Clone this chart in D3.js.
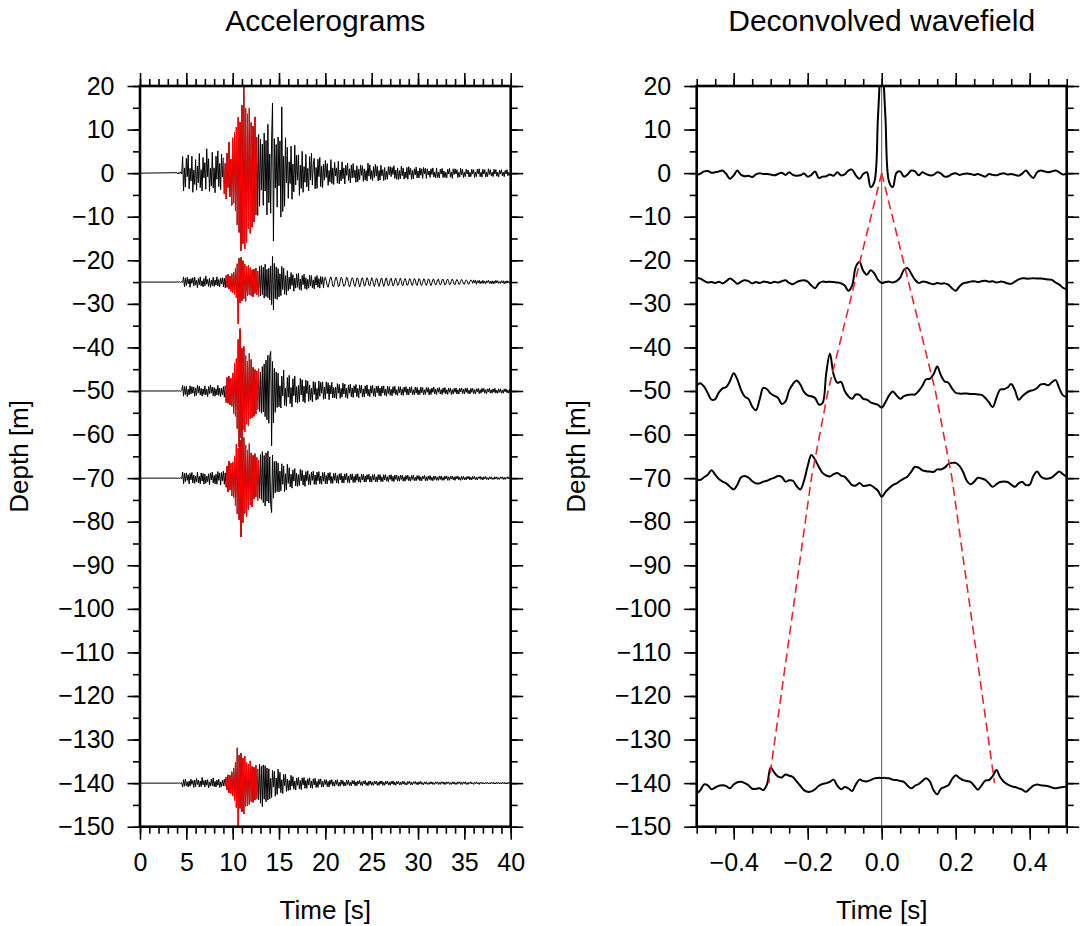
<!DOCTYPE html>
<html><head><meta charset="utf-8">
<script src="https://cdn.jsdelivr.net/npm/d3@7"></script>
<style>body{margin:0;background:#fff}svg{display:block}</style>
</head><body>
<svg id="chart" width="1081" height="926"></svg>
<script>
// ---------------- data ----------------
const depths = [0, -25, -50, -70, -140];
const accStart = 4.0, accDt = 0.1;   // seconds
const acc0 = [
0.1,-0.2,0.2,-0.1,0.3,-0.2,3.8,-4.1,1.2,-3.2,
3.4,-0.8,4.2,-3.6,1.1,-1.8,3.9,-4.4,0.7,-2.6,
3.1,-3.9,1.6,-2.2,4.5,-3.3,0.8,-4.1,3.6,-1.1,
2.4,-3.7,5.6,-0.8,3.3,-4.2,1.1,-2.9,4.8,-3.4,
1.2,-4.5,3.9,-1.4,5.1,-3.1,2.2,-3.8,4.4,-0.9,
3.5,-4.8,2.2,-5.9,4.6,-3.3,7.1,-5.4,3.2,-7.4,
8.1,-6.9,9.4,-8.7,10.6,-11.9,12.8,-13.6,11.7,-17.8,
15.6,-16.2,20.4,-17.4,14.8,-15.9,13.6,-12.7,14.9,-13.8,
11.6,-12.4,10.8,-11.2,12.9,-9.6,8.2,-9.7,8.9,-7.6,
7.8,-3.9,6.7,-7.4,9.2,-4.1,7.5,-9.6,11.2,-6.8,
4.4,-9.2,7.6,16.1,-15.6,7.9,-3.4,6.6,-7.8,8.3,
-2.9,7.4,-10.1,15.2,-8.8,3.9,-7.6,8.1,-2.2,5.9,
-5.8,2.6,-2.4,6.2,-6.0,2.1,-4.3,6.4,-2.7,4.1,
-1.6,4.2,-5.1,1.8,-3.5,5.0,-4.4,1.5,-2.1,4.3,
-3.2,1.1,-4.1,3.8,-1.6,4.6,-2.7,1.9,3.4,-3.6,
1.3,-3.5,3.2,-0.8,3.6,-3.1,1.6,-3.3,2.1,-1.6,
2.9,-1.0,2.2,-2.8,0.6,-2.0,3.1,-2.4,1.2,-2.6,
2.5,-0.6,1.2,-2.3,2.7,-2.5,0.7,-1.8,2.6,-1.3,
1.2,-2.5,1.8,-0.5,2.3,-1.7,1.0,-2.2,1.9,-1.1,
2.2,-1.0,0.7,-2.1,1.7,-2.0,0.9,-1.5,1.9,-0.5,
1.7,-1.9,1.0,-1.6,0.6,-1.8,2.3,-0.7,1.9,-1.4,
0.6,-1.7,1.5,-1.0,2.0,-0.7,1.6,-1.8,0.6,-1.6,
1.8,-0.6,0.8,-1.7,1.3,-1.5,0.5,-1.4,1.5,-0.4,
1.5,-0.8,1.3,-0.3,1.7,-1.2,0.7,-1.4,1.2,-1.5,
0.6,-1.3,1.6,-0.6,1.2,-1.4,0.3,-1.1,1.3,-1.4,
1.5,-0.4,1.1,-1.4,0.6,-1.3,1.0,-0.4,1.4,-1.1,
0.5,-1.1,1.2,-0.5,1.0,-1.2,1.3,-0.2,1.1,-1.2,
1.0,-0.4,0.5,-1.0,1.0,-0.3,1.2,-0.9,0.2,-1.1,
1.2,-1.0,0.2,-1.1,0.9,-0.2,1.1,-1.0,0.5,-1.0,
0.2,-1.1,0.9,-0.2,1.1,-0.9,0.2,-1.2,1.0,-0.3,
1.0,-0.2,0.8,-1.0,0.2,-0.9,1.1,-0.4,0.9,-1.0,
0.2,-0.8,0.9,-0.2,0.7,-0.9,0.2,-0.8,0.9,-0.2,
0.8,-1.0,0.2,-0.8,0.9,-0.2,1.0,-0.8,0.2,-0.9,
0.9,-0.2,0.8,-0.9,0.2,-0.8,1.0,-0.3,0.8,-0.6,
0.2,-0.8,0.9,-0.2,0.8,-0.7,0.2,-0.9,0.7,-0.2,
0.8,-0.6,0.2,-0.8,0.6,-0.2,0.8,-0.6,0.2,-0.5,
0.3];
const acc25 = [
0.0,0.1,-0.1,0.1,-0.1,0.1,-0.1,1.2,-1.1,0.9,
-0.8,1.1,-0.4,0.7,-1.2,0.8,-0.3,1.0,-0.9,1.1,
-0.7,0.4,-1.3,0.8,-0.6,1.2,-0.9,0.3,-1.1,0.8,
-0.9,1.4,-0.5,0.6,-1.0,0.9,-1.2,0.4,-0.8,1.1,
-1.0,0.5,-0.7,1.2,-0.9,0.6,-1.1,0.9,-0.4,1.0,
-1.1,0.9,-1.3,1.5,-1.2,1.8,-1.6,1.4,-2.1,1.9,
-2.4,2.2,-2.8,3.1,-3.6,4.2,-9.6,5.5,-4.8,5.7,
-4.3,4.9,-3.8,4.1,-4.4,3.6,-3.2,3.9,-2.9,3.3,
-3.1,2.8,-3.4,3.0,-2.6,3.2,-2.9,2.5,-3.3,3.6,
-3.2,3.8,-2.9,3.4,-3.7,4.1,-3.3,2.9,-3.6,3.2,
-4.1,3.7,-5.2,5.9,-6.4,4.3,-3.8,3.5,-4.0,3.1,
-3.4,1.9,-3.1,3.6,-1.7,3.2,-2.8,1.5,-3.0,2.6,
-2.0,1.1,-1.6,2.2,-0.8,1.7,-2.1,0.9,-1.4,1.9,
-1.2,2.0,-1.7,0.7,-1.9,1.5,-0.6,1.8,-1.5,1.0,
-1.7,0.6,-1.4,1.6,-0.9,1.5,-1.3,0.5,-1.6,1.2,
-0.7,1.5,-1.2,0.8,-1.4,1.3,-0.5,1.2,-1.3,0.9,
1.1,0.3,-0.8,-1.2,-0.2,0.7,1.2,0.4,-0.9,-1.1,
-0.1,1.0,1.1,0.1,-1.1,-0.9,0.2,1.1,0.8,-0.3,
-1.0,-0.8,0.3,1.1,0.7,-0.4,-1.1,-0.6,0.5,1.0,
0.6,-0.6,-1.0,-0.2,0.9,0.9,-0.2,-1.1,-0.5,0.7,
1.0,0.2,-0.9,-0.8,0.3,1.0,0.5,-0.7,-0.9,0.1,
1.0,0.6,-0.6,-1.0,-0.1,0.9,0.7,-0.5,-1.0,-0.2,
0.8,0.9,-0.3,-1.0,-0.4,0.8,0.9,-0.2,-0.9,-0.5,
0.6,0.9,0.0,-0.9,-0.6,0.5,0.9,0.1,-0.8,-0.6,
0.4,0.9,0.2,-0.8,-0.7,0.3,0.8,0.3,-0.7,-0.7,
0.2,0.8,0.4,-0.6,-0.8,0.1,0.8,0.5,-0.5,-0.8,
0.0,0.8,0.5,-0.5,-0.8,-0.1,0.7,0.6,-0.4,-0.8,
-0.2,0.7,0.6,-0.3,-0.8,-0.2,0.6,0.7,-0.2,-0.7,
-0.4,0.5,0.7,-0.1,-0.7,-0.4,0.5,0.7,0.0,-0.7,
-0.5,0.4,0.7,0.1,-0.6,-0.5,0.3,0.7,0.2,-0.5,
-0.6,0.2,0.6,0.2,-0.5,-0.5,0.2,0.6,0.3,-0.4,
-0.5,0.1,0.5,0.3,-0.4,-0.5,0.1,0.5,0.3,-0.3,
0.5,-0.2,0.4,-0.5,0.3,-0.2,0.4,-0.4,0.2,-0.3,
0.4,-0.3,0.2,-0.4,0.3,-0.1,0.4,-0.3,0.2,-0.4,
0.3,-0.4,0.2,-0.3,0.4,-0.2,0.3,-0.3,0.1,-0.3,
0.3,-0.2,0.3,-0.4,0.2,-0.3,0.3,-0.2,0.2,-0.2,
0.0];
const acc50 = [
0.0,0.1,-0.1,0.1,-0.1,0.1,1.3,-1.2,1.0,-0.8,
1.1,-1.3,0.4,-0.9,1.2,-0.7,1.0,-0.5,0.9,-1.2,
0.7,-1.0,1.3,-0.4,1.1,-0.9,0.6,-1.2,0.5,-0.8,
1.2,-0.9,0.4,-1.3,1.0,-0.7,1.4,-0.5,0.9,-1.1,
0.8,-1.2,0.5,-0.9,1.3,-1.0,0.7,-1.3,0.6,-0.9,
1.0,-1.4,1.2,-2.6,3.1,-2.8,3.4,-3.2,2.9,-3.5,
4.1,-5.2,6.3,-5.8,7.4,-8.6,11.8,-12.9,14.3,-10.7,
9.8,-8.9,10.2,-9.4,8.1,-7.6,6.8,-7.9,8.6,-6.4,
7.2,-6.1,5.4,-5.8,4.9,-5.3,4.6,-4.2,5.1,-4.7,
4.3,-5.1,5.6,-4.8,6.2,-5.9,7.1,-6.6,8.2,-7.4,
7.9,9.1,-12.6,6.8,-7.3,5.2,-4.9,4.4,-3.8,4.1,
-3.6,1.2,-3.9,3.4,-1.1,4.8,-3.3,0.7,-3.5,3.1,
-1.4,3.6,-2.9,0.8,-3.7,2.8,-1.1,3.4,-2.6,1.0,
-2.8,1.3,-2.5,2.9,-0.9,2.6,-2.4,1.1,-2.7,2.5,
-0.6,2.3,-2.4,1.4,-2.1,0.7,-2.5,2.2,-0.8,2.0,
-2.1,0.6,-1.9,2.3,-1.2,2.0,-0.5,2.1,-1.9,0.9,
-1.8,2.1,-0.6,1.9,-2.0,1.3,-0.7,2.0,-1.6,0.8,
-1.6,0.9,-1.8,1.7,-0.5,1.5,-1.7,0.6,-1.4,1.8,
-0.7,1.6,-1.5,0.6,-1.7,1.4,-0.5,1.6,-1.3,0.7,
-1.5,1.2,-0.4,1.5,-1.3,0.6,-1.6,1.4,-0.5,1.3,
-1.3,0.5,-1.4,1.2,-0.6,1.4,-1.1,0.4,-1.3,1.2,
-0.5,1.3,-1.2,0.6,-1.3,1.1,-0.4,1.2,-1.1,0.7,
-1.2,1.1,-0.5,1.2,-1.0,0.4,-1.2,1.1,-0.6,1.0,
-1.0,0.4,-1.1,1.0,-0.5,1.1,-0.9,0.3,-1.0,1.0,
-0.4,1.0,-0.9,0.5,-1.0,0.9,-0.3,1.0,-0.9,0.5,
-0.9,0.9,-0.4,1.0,-0.8,0.3,-0.9,0.9,-0.5,0.8,
-0.9,0.3,-0.8,0.9,-0.4,0.8,-0.9,0.3,-0.8,0.8,
-0.3,0.8,-0.9,0.4,-0.8,0.7,-0.3,0.9,-0.7,0.4,
-0.8,0.7,-0.3,0.8,-0.7,0.3,-0.8,0.7,-0.4,0.8,
-0.7,0.3,-0.8,0.7,-0.3,0.7,-0.8,0.3,-0.7,0.6,
-0.3,0.7,-0.7,0.3,-0.7,0.6,-0.2,0.7,-0.6,0.4,
-0.7,0.6,-0.3,0.7,-0.6,0.2,-0.7,0.6,-0.3,0.6,
-0.6,0.3,-0.7,0.5,-0.2,0.6,-0.6,0.3,-0.5,0.6,
-0.2,0.6,-0.5,0.3,-0.6,0.5,-0.2,0.6,-0.5,0.3,
-0.5,0.5,-0.3,0.6,-0.5,0.2,-0.5,0.5,-0.3,0.5,
-0.5,0.2,-0.5,0.5,-0.2,0.5,-0.4,0.2,-0.5,0.4,
0.0];
const acc70 = [
0.0,-0.1,0.1,-0.1,0.1,-0.1,1.4,-1.3,1.1,-0.9,
1.2,-0.5,0.8,-1.3,1.1,-0.4,1.3,-1.1,0.7,-1.2,
0.5,-0.9,1.4,-1.1,0.4,-1.3,1.2,-0.7,1.1,-1.4,
0.9,-1.2,0.5,-0.8,1.0,-1.5,1.2,-0.4,1.4,-1.1,
0.6,-1.3,0.9,-1.4,1.5,-0.5,1.2,-1.6,1.3,-0.6,
1.6,-1.4,1.2,-2.1,2.8,-3.2,3.9,-2.7,3.4,-4.1,
3.6,-4.4,5.1,-6.3,7.8,-8.2,6.9,-9.6,8.7,-13.5,
11.9,-10.2,9.3,-8.1,7.6,-8.8,6.4,-7.2,7.9,-6.1,
5.8,-6.6,5.2,-4.8,5.6,-4.3,4.7,-5.1,4.1,-4.6,
5.4,-4.9,6.1,-5.6,5.2,-6.4,5.8,-5.3,6.2,-5.7,
4.9,-6.1,-7.9,5.3,-4.6,3.8,-3.4,3.9,-3.1,3.5,
-3.2,1.6,-2.9,3.3,-1.4,2.8,-3.1,1.0,-2.7,3.2,
-1.2,2.4,-2.0,0.9,-2.3,1.9,-0.7,2.2,-1.8,1.1,
-1.9,0.8,-1.7,2.0,-0.6,1.8,-1.6,0.7,-1.9,1.5,
-0.6,1.7,-1.5,0.8,-1.6,1.4,-0.5,1.6,-1.4,0.7,
-1.5,1.4,-0.6,1.5,-1.3,0.5,-1.4,1.3,-0.7,1.4,
-1.3,0.6,-1.3,1.2,-0.5,1.3,-1.2,0.4,-1.2,1.1,
-0.5,1.2,-1.1,0.6,-1.2,1.0,-0.4,1.1,-1.1,0.5,
-1.1,1.0,-0.4,1.1,-1.0,0.5,-1.1,0.9,-0.4,1.0,
-1.0,0.4,-1.0,0.9,-0.5,1.0,-0.9,0.3,-1.0,0.9,
-0.4,0.9,-0.9,0.5,-0.9,0.8,-0.3,0.9,-0.9,0.4,
-0.9,0.8,-0.4,0.9,-0.8,0.3,-0.9,0.8,-0.4,0.8,
-0.8,0.3,-0.8,0.8,-0.4,0.8,-0.7,0.3,-0.8,0.7,
-0.3,0.8,-0.7,0.4,-0.8,0.7,-0.3,0.7,-0.7,0.4,
-0.7,0.7,-0.3,0.7,-0.7,0.3,-0.7,0.6,-0.3,0.7,
-0.6,0.3,-0.7,0.6,-0.3,0.7,-0.6,0.2,-0.6,0.6,
-0.3,0.6,-0.6,0.3,-0.6,0.5,-0.2,0.6,-0.6,0.3,
-0.6,0.5,-0.3,0.6,-0.5,0.2,-0.6,0.5,-0.3,0.5,
-0.5,0.2,-0.5,0.5,-0.3,0.5,-0.5,0.2,-0.5,0.5,
-0.2,0.5,-0.5,0.3,-0.5,0.4,-0.2,0.5,-0.4,0.3,
-0.5,0.4,-0.2,0.5,-0.4,0.2,-0.5,0.4,-0.3,0.4,
-0.4,0.2,-0.4,0.4,-0.2,0.4,-0.4,0.2,-0.4,0.4,
-0.2,0.4,-0.4,0.2,-0.4,0.3,-0.1,0.4,-0.3,0.2,
-0.4,0.3,-0.2,0.4,-0.3,0.1,-0.4,0.3,-0.2,0.3,
-0.3,0.1,-0.3,0.3,-0.2,0.3,-0.3,0.1,-0.3,0.3,
-0.1,0.3,-0.3,0.2,-0.3,0.2,-0.1,0.3,-0.2,0.2,
0.0];
const acc140 = [
0.0,0.1,-0.1,0.1,-0.1,0.1,-0.9,0.8,-0.7,0.9,
-0.6,0.3,-0.9,0.5,-0.7,0.9,-0.3,0.6,-1.0,0.7,
-0.8,1.1,-0.3,0.7,-0.9,0.5,-0.8,1.3,-0.4,0.6,
-0.9,0.7,-0.5,0.8,-1.1,0.3,-0.7,0.9,-0.6,1.2,
-0.8,0.4,-0.9,0.7,-0.5,0.9,-1.0,0.3,-0.8,0.7,
-0.6,0.9,-0.7,1.4,-1.6,1.9,-2.2,1.8,-2.4,2.6,
-2.9,3.4,-4.1,4.8,-5.6,8.1,-10.2,6.4,-5.8,6.9,
-6.6,5.7,-7.1,6.2,-5.3,4.8,-5.2,4.4,-4.9,5.1,
-4.2,3.8,-4.4,3.6,-3.9,4.1,-3.5,3.2,-3.8,4.3,
-4.6,3.9,-5.4,4.2,-3.7,4.0,-4.3,3.5,-3.9,3.3,
-3.6,1.1,-3.3,2.9,-0.9,2.7,-3.0,1.2,-2.6,3.2,
-1.2,2.5,-2.2,0.8,-2.4,2.0,-0.6,2.1,-1.9,0.9,
-1.7,0.6,-1.6,1.8,-0.7,1.5,-1.4,0.5,-1.6,1.2,
-0.5,1.4,-1.3,0.6,-1.5,1.2,-0.4,1.3,-1.2,0.6,
-1.2,1.0,-0.4,1.2,-1.1,0.5,-1.2,1.0,-0.4,1.1,
-1.0,0.4,-1.0,0.9,-0.3,1.0,-0.9,0.4,-0.9,0.8,
-0.3,0.8,-0.8,0.4,-0.9,0.7,-0.3,0.8,-0.7,0.3,
-0.7,0.7,-0.3,0.8,-0.7,0.2,-0.7,0.7,-0.3,0.6,
-0.7,0.2,-0.6,0.7,-0.3,0.6,-0.6,0.2,-0.6,0.6,
-0.2,0.6,-0.6,0.3,-0.6,0.5,-0.2,0.6,-0.5,0.3,
-0.6,0.5,-0.2,0.6,-0.5,0.2,-0.6,0.5,-0.3,0.5,
-0.5,0.2,-0.5,0.5,-0.2,0.5,-0.5,0.2,-0.5,0.5,
-0.2,0.5,-0.5,0.2,-0.5,0.4,-0.2,0.5,-0.4,0.2,
-0.5,0.4,-0.2,0.5,-0.4,0.2,-0.5,0.4,-0.2,0.4,
-0.4,0.2,-0.4,0.4,-0.2,0.4,-0.4,0.1,-0.4,0.4,
-0.1,0.4,-0.4,0.2,-0.4,0.3,-0.1,0.4,-0.3,0.2,
-0.4,0.3,-0.2,0.4,-0.3,0.1,-0.4,0.3,-0.2,0.3,
-0.3,0.1,-0.3,0.3,-0.2,0.3,-0.3,0.1,-0.3,0.3,
-0.1,0.3,-0.3,0.2,-0.3,0.3,-0.1,0.3,-0.3,0.2,
-0.3,0.3,-0.1,0.3,-0.3,0.1,-0.3,0.3,-0.2,0.3,
-0.3,0.1,-0.3,0.3,-0.1,0.3,-0.3,0.2,-0.3,0.3,
-0.1,0.3,-0.3,0.1,-0.3,0.2,-0.1,0.3,-0.2,0.1,
-0.3,0.2,-0.1,0.3,-0.2,0.1,-0.3,0.2,-0.1,0.2,
-0.2,0.1,-0.2,0.2,-0.1,0.2,-0.2,0.1,-0.2,0.2,
-0.1,0.2,-0.2,0.1,-0.2,0.2,-0.1,0.2,-0.2,0.1,
-0.2,0.2,-0.1,0.2,-0.2,0.1,-0.2,0.2,-0.1,0.2,
0.0];
const accTraces = [acc0, acc25, acc50, acc70, acc140];
const redStart = [9.0, 9.3, 9.2, 9.3, 9.2];   // highlighted window (s)
const redEnd   = [12.6, 12.8, 12.8, 12.8, 12.7];

const decStart = -0.5, decDt = 0.01;
const dec0 = [
-0.4,-0.1,0.4,0.5,0.1,0.2,0.4,0.6,-0.2,-1.3,
-0.5,0.6,-0.4,-0.7,-0.6,-0.9,-0.3,0.0,-0.2,-0.2,
-0.3,-0.5,-0.2,0.1,-0.4,0.2,-0.4,-0.6,-0.5,-0.1,
-0.8,-0.4,0.4,-1.1,-0.8,-0.7,-0.3,-0.6,0.2,-0.5,
-0.3,0.6,0.8,-0.5,-1.3,-0.2,0.2,-3.2,-2.0,13.0,
27.0,13.0,-2.0,-3.2,0.1,0.4,-0.8,-0.3,0.6,0.4,
-0.5,0.2,-0.2,-0.5,-0.4,0.2,-0.1,-0.8,-0.7,-0.2,
0.0,-0.4,-0.2,-0.1,-0.2,-0.4,-0.2,-0.5,-0.8,-0.2,
-0.4,-0.5,-0.2,0.0,-0.3,-0.2,-0.4,-0.6,-0.1,0.6,
-0.4,-1.1,0.2,0.6,0.4,0.2,0.4,0.6,0.2,-0.3,
-0.1];
const dec25 = [
1.0,0.8,0.3,-0.1,0.0,-0.2,0.1,-0.3,0.2,0.8,
0.3,-0.4,0.1,0.4,0.2,-0.3,0.0,-0.2,0.1,0.0,
-0.2,0.1,-0.1,0.2,0.4,-0.2,-0.5,0.0,0.3,0.4,
0.1,-0.8,-1.4,-0.3,0.1,0.0,0.1,0.0,-0.1,-0.3,
-0.8,-2.0,-0.8,3.5,4.6,2.6,1.7,2.7,2.0,0.5,
-0.2,0.0,0.1,-0.1,0.2,1.0,2.8,3.2,1.9,0.5,
-0.2,0.1,0.0,-0.3,-0.5,-0.2,-0.4,-0.3,-0.6,-1.4,
-2.0,-1.0,-0.3,-0.1,0.1,0.2,0.0,0.2,0.3,0.1,
0.2,-0.1,0.1,0.0,-0.3,-0.4,0.1,0.6,0.9,0.8,
0.8,0.9,0.8,0.8,0.7,0.6,0.5,-0.1,-0.6,-1.3,
-1.7];
const dec50 = [
1.3,1.8,1.0,-0.5,-2.0,-1.9,-0.3,0.6,0.9,2.3,
4.1,2.6,0.2,-1.3,-1.8,-3.6,-4.4,-2.0,0.7,0.4,
-0.6,-1.1,-1.6,-3.0,-2.4,0.2,1.6,2.4,1.5,-0.2,
-1.0,-1.2,-1.6,-3.1,-2.8,4.0,8.6,3.8,1.9,2.1,
0.0,-1.2,-1.8,-0.8,-0.9,-1.8,-2.0,-2.6,-2.9,-3.2,
-3.8,-2.6,-1.0,-0.1,-1.0,-1.8,-1.2,-0.9,-0.8,-0.8,
0.0,1.2,2.7,2.8,3.8,5.6,3.6,2.2,1.9,0.6,
-0.4,-0.6,-0.6,-0.6,-0.7,-0.7,-0.8,-0.9,-1.6,-2.6,
-3.7,-1.6,0.3,0.4,0.8,1.6,0.2,-2.0,-1.2,-0.5,
0.0,0.2,0.7,1.5,1.6,1.3,2.0,2.5,0.6,-1.0,
-1.4];
const dec70 = [
-0.3,-0.4,0.2,0.8,1.8,0.8,-0.2,-0.8,-1.2,-2.0,
-2.6,-1.5,0.2,0.5,0.1,-0.7,-1.2,-1.2,-0.8,-0.6,
-0.2,0.1,0.5,0.3,-0.8,-0.5,-0.6,-1.8,-2.6,-0.6,
2.8,5.3,4.2,2.6,1.2,0.6,0.4,0.9,1.2,0.6,
0.3,-0.6,-1.6,-1.7,-1.1,-1.8,-1.7,-1.6,-2.2,-2.9,
-4.3,-3.2,-2.3,-1.6,-1.2,-0.6,-0.1,0.4,1.5,2.6,
2.4,1.8,1.6,1.5,1.4,2.0,2.0,2.4,3.2,3.5,
3.5,2.8,1.4,-0.6,-1.4,-0.8,0.1,-0.1,-0.4,-1.2,
-2.0,-1.4,-0.9,-0.8,-0.9,-1.5,-2.0,-1.2,-0.9,-1.6,
-1.5,0.5,1.5,0.4,-0.1,-0.1,0.2,0.9,1.5,0.9,
0.3];
const dec140 = [
-2.4,-1.6,-0.3,-0.5,-1.4,-1.0,-0.6,-0.5,-0.7,-1.2,
-0.3,0.2,0.3,0.0,-0.5,-1.3,-1.3,-1.2,-1.6,-0.3,
3.6,2.4,1.5,1.3,2.0,1.7,1.4,0.4,-0.6,-1.6,
-2.0,-1.9,-1.4,-0.6,-0.2,0.0,0.3,0.8,-0.6,-1.4,
-0.9,-1.2,-1.8,-0.3,0.8,0.5,0.4,0.7,1.1,1.2,
1.2,1.2,1.1,0.8,0.7,0.5,0.3,-0.6,-1.2,-0.6,
-0.2,0.5,1.1,0.4,-1.6,-2.6,-1.3,-0.9,-0.5,0.9,
1.8,1.2,0.7,0.5,0.3,-0.6,-1.5,-0.5,0.6,0.7,
1.6,3.0,1.4,0.3,-0.3,-0.7,-0.9,-1.2,-1.5,-2.0,
-1.3,-0.6,-0.3,-0.5,-0.6,-0.7,-1.0,-1.2,-1.0,-0.9,
-0.8];
const decTraces = [dec0, dec25, dec50, dec70, dec140];

// arrival picks (time in s) at each sensor depth
const pickLeft  = [0, -0.0725, -0.145, -0.19, -0.305];
const pickRight = [0,  0.0725,  0.145,  0.19,  0.305];

const yMajorTicks = d3.range(20, -151, -10);
const yMinorTicks = d3.range(20, -151, -5);
const accXMajor = d3.range(0, 41, 5);
const accXMinor = d3.range(0, 41, 1);
const decXMajor = [-0.4, -0.2, 0.0, 0.2, 0.4];
const decXMinor = d3.range(-10, 11, 1).map(k => k * 0.05);

const titles = ["Accelerograms", "Deconvolved wavefield"];
const xLabel = "Time [s]", yLabel = "Depth [m]";

// ---------------- layout ----------------
const FONT = "'Liberation Sans', Helvetica, Arial, sans-serif";
const plotTop = 86, plotBottom = 826.7;
const panels = [
  {x0: 140, x1: 510.7, domain: [0, 40], major: accXMajor, minor: accXMinor, fmt: d3.format("d")},
  {x0: 696.7, x1: 1066.7, domain: [-0.5, 0.5], major: decXMajor, minor: decXMinor, fmt: d3.format(".1f")}
];
const svg = d3.select("#chart");
const y = d3.scaleLinear().domain([20, -150]).range([plotTop, plotBottom]);

function styleAxis(g, fontSize) {
  g.select(".domain").remove();
  g.selectAll(".tick line").attr("stroke", "#000").attr("stroke-width", 1.6);
  g.selectAll(".tick text").attr("font-family", FONT).attr("font-size", fontSize).attr("fill", "#000");
}

panels.forEach((p, pi) => {
  const x = d3.scaleLinear().domain(p.domain).range([p.x0, p.x1]);
  const g = svg.append("g");
  const clipId = "clip" + pi;
  svg.append("clipPath").attr("id", clipId).append("rect")
    .attr("x", p.x0).attr("y", plotTop).attr("width", p.x1 - p.x0).attr("height", plotBottom - plotTop);

  // axes
  g.append("g").attr("transform", `translate(0,${plotBottom})`)
    .call(d3.axisBottom(x).tickValues(p.minor).tickSize(7).tickFormat(""))
    .call(a => styleAxis(a, 25));
  g.append("g").attr("transform", `translate(0,${plotBottom})`)
    .call(d3.axisBottom(x).tickValues(p.major).tickSize(13).tickPadding(14).tickFormat(p.fmt))
    .call(a => styleAxis(a, 25));
  g.append("g").attr("transform", `translate(0,${plotTop})`)
    .call(d3.axisTop(x).tickValues(p.minor).tickSize(7).tickFormat(""))
    .call(a => styleAxis(a, 25));
  g.append("g").attr("transform", `translate(0,${plotTop})`)
    .call(d3.axisTop(x).tickValues(p.major).tickSize(13).tickFormat(""))
    .call(a => styleAxis(a, 25));
  g.append("g").attr("transform", `translate(${p.x0},0)`)
    .call(d3.axisLeft(y).tickValues(yMinorTicks).tickSize(7).tickFormat(""))
    .call(a => styleAxis(a, 25));
  g.append("g").attr("transform", `translate(${p.x0},0)`)
    .call(d3.axisLeft(y).tickValues(yMajorTicks).tickSize(12.5).tickPadding(13).tickFormat(d3.format("d")))
    .call(a => styleAxis(a, 25));
  g.append("g").attr("transform", `translate(${p.x1},0)`)
    .call(d3.axisRight(y).tickValues(yMinorTicks).tickSize(7).tickFormat(""))
    .call(a => styleAxis(a, 25));
  g.append("g").attr("transform", `translate(${p.x1},0)`)
    .call(d3.axisRight(y).tickValues(yMajorTicks).tickSize(12.5).tickFormat(""))
    .call(a => styleAxis(a, 25));

  const plot = g.append("g").attr("clip-path", `url(#${clipId})`);

  if (pi === 0) {
    depths.forEach((dep, k) => {
      const pts = [{t: 0, v: 0}].concat(accTraces[k].map((v, i) => ({t: +(accStart + i * accDt).toFixed(3), v})));
      const line = d3.line().x(d => x(d.t)).y(d => y(dep + d.v));
      plot.append("path").attr("d", line(pts)).attr("fill", "none")
        .attr("stroke", "#000").attr("stroke-width", 1).attr("stroke-linejoin", "round");
      const seg = pts.filter(d => d.t >= redStart[k] - 1e-9 && d.t <= redEnd[k] + 1e-9);
      plot.append("path").attr("d", line(seg)).attr("fill", "none")
        .attr("stroke", "#ff0000").attr("stroke-width", 1).attr("stroke-linejoin", "round");
    });
  } else {
    plot.append("line").attr("x1", x(0)).attr("x2", x(0)).attr("y1", plotTop).attr("y2", plotBottom)
      .attr("stroke", "#555").attr("stroke-width", 1);
    depths.forEach((dep, k) => {
      const pts = decTraces[k].map((v, i) => ({t: decStart + i * decDt, v}));
      const line = d3.line().curve(d3.curveCatmullRom.alpha(0.5)).x(d => x(d.t)).y(d => y(dep + d.v));
      plot.append("path").attr("d", line(pts)).attr("fill", "none")
        .attr("stroke", "#000").attr("stroke-width", 2).attr("stroke-linejoin", "round");
    });
    const dl = d3.line().x(d => x(d.t)).y(d => y(d.d));
    [pickLeft, pickRight].forEach(pk => {
      plot.append("path").attr("d", dl(pk.map((t, k) => ({t, d: depths[k]}))))
        .attr("fill", "none").attr("stroke", "#e8262e").attr("stroke-width", 1.6)
        .attr("stroke-dasharray", "9,5");
    });
  }

  // frame
  g.append("rect").attr("x", p.x0).attr("y", plotTop).attr("width", p.x1 - p.x0).attr("height", plotBottom - plotTop)
    .attr("fill", "none").attr("stroke", "#000").attr("stroke-width", 2.6);

  const cx = (p.x0 + p.x1) / 2;
  g.append("text").attr("x", cx).attr("y", 31).attr("text-anchor", "middle")
    .attr("font-family", FONT).attr("font-size", 30).text(titles[pi]);
  g.append("text").attr("x", cx).attr("y", 919).attr("text-anchor", "middle")
    .attr("font-family", FONT).attr("font-size", 26).text(xLabel);
  g.append("text").attr("transform", `translate(${p.x0 - 112},${(plotTop + plotBottom) / 2}) rotate(-90)`)
    .attr("text-anchor", "middle").attr("font-family", FONT).attr("font-size", 26).text(yLabel);
});
</script>
</body></html>
